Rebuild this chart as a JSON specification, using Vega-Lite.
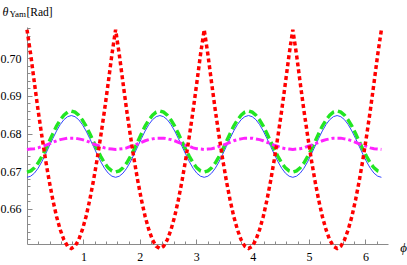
{
"$schema": "https://vega.github.io/schema/vega-lite/v6.json",
"width": 361, "height": 217,
"autosize": "none",
"padding": {"left": 27, "top": 27, "right": 19, "bottom": 21},
"background": "white",
"config": {"view": {"stroke": null}, "axis": {"grid": false, "domainColor": "#8a8a8a", "tickColor": "#8a8a8a", "labelFont": "Liberation Serif", "labelFontSize": 12, "labelColor": "#000000", "titleFont": "Liberation Serif", "titleColor": "#000000", "titleFontWeight": "normal"}},
"data": {"values": [
{"phi":0,"red":0.7076,"green":0.6698,"blue":0.6684,"magenta":0.6758},
{"phi":0.0654,"red":0.7010,"green":0.6701,"blue":0.6687,"magenta":0.6759},
{"phi":0.1309,"red":0.6935,"green":0.6709,"blue":0.6695,"magenta":0.6760},
{"phi":0.1963,"red":0.6862,"green":0.6722,"blue":0.6708,"magenta":0.6762},
{"phi":0.2618,"red":0.6795,"green":0.6739,"blue":0.6725,"magenta":0.6766},
{"phi":0.3272,"red":0.6732,"green":0.6758,"blue":0.6745,"magenta":0.6769},
{"phi":0.3927,"red":0.6675,"green":0.6779,"blue":0.6766,"magenta":0.6773},
{"phi":0.4581,"red":0.6624,"green":0.6800,"blue":0.6787,"magenta":0.6777},
{"phi":0.5236,"red":0.6580,"green":0.6820,"blue":0.6807,"magenta":0.6781},
{"phi":0.5890,"red":0.6545,"green":0.6836,"blue":0.6824,"magenta":0.6784},
{"phi":0.6545,"red":0.6518,"green":0.6849,"blue":0.6837,"magenta":0.6786},
{"phi":0.7199,"red":0.6501,"green":0.6857,"blue":0.6845,"magenta":0.6788},
{"phi":0.7854,"red":0.6495,"green":0.6860,"blue":0.6848,"magenta":0.6788},
{"phi":0.8508,"red":0.6501,"green":0.6857,"blue":0.6845,"magenta":0.6788},
{"phi":0.9163,"red":0.6518,"green":0.6849,"blue":0.6837,"magenta":0.6786},
{"phi":0.9817,"red":0.6545,"green":0.6836,"blue":0.6824,"magenta":0.6784},
{"phi":1.0472,"red":0.6580,"green":0.6820,"blue":0.6807,"magenta":0.6781},
{"phi":1.1126,"red":0.6624,"green":0.6800,"blue":0.6787,"magenta":0.6777},
{"phi":1.1781,"red":0.6675,"green":0.6779,"blue":0.6766,"magenta":0.6773},
{"phi":1.2435,"red":0.6732,"green":0.6758,"blue":0.6745,"magenta":0.6769},
{"phi":1.3090,"red":0.6795,"green":0.6739,"blue":0.6725,"magenta":0.6766},
{"phi":1.3744,"red":0.6862,"green":0.6722,"blue":0.6708,"magenta":0.6762},
{"phi":1.4399,"red":0.6935,"green":0.6709,"blue":0.6695,"magenta":0.6760},
{"phi":1.5053,"red":0.7010,"green":0.6701,"blue":0.6687,"magenta":0.6759},
{"phi":1.5708,"red":0.7076,"green":0.6698,"blue":0.6684,"magenta":0.6758},
{"phi":1.6362,"red":0.7010,"green":0.6701,"blue":0.6687,"magenta":0.6759},
{"phi":1.7017,"red":0.6935,"green":0.6709,"blue":0.6695,"magenta":0.6760},
{"phi":1.7671,"red":0.6862,"green":0.6722,"blue":0.6708,"magenta":0.6762},
{"phi":1.8326,"red":0.6795,"green":0.6739,"blue":0.6725,"magenta":0.6766},
{"phi":1.8980,"red":0.6732,"green":0.6758,"blue":0.6745,"magenta":0.6769},
{"phi":1.9635,"red":0.6675,"green":0.6779,"blue":0.6766,"magenta":0.6773},
{"phi":2.0289,"red":0.6624,"green":0.6800,"blue":0.6787,"magenta":0.6777},
{"phi":2.0944,"red":0.6580,"green":0.6820,"blue":0.6807,"magenta":0.6781},
{"phi":2.1598,"red":0.6545,"green":0.6836,"blue":0.6824,"magenta":0.6784},
{"phi":2.2253,"red":0.6518,"green":0.6849,"blue":0.6837,"magenta":0.6786},
{"phi":2.2907,"red":0.6501,"green":0.6857,"blue":0.6845,"magenta":0.6788},
{"phi":2.3562,"red":0.6495,"green":0.6860,"blue":0.6848,"magenta":0.6788},
{"phi":2.4216,"red":0.6501,"green":0.6857,"blue":0.6845,"magenta":0.6788},
{"phi":2.4871,"red":0.6518,"green":0.6849,"blue":0.6837,"magenta":0.6786},
{"phi":2.5525,"red":0.6545,"green":0.6836,"blue":0.6824,"magenta":0.6784},
{"phi":2.6180,"red":0.6580,"green":0.6820,"blue":0.6807,"magenta":0.6781},
{"phi":2.6834,"red":0.6624,"green":0.6800,"blue":0.6787,"magenta":0.6777},
{"phi":2.7489,"red":0.6675,"green":0.6779,"blue":0.6766,"magenta":0.6773},
{"phi":2.8143,"red":0.6732,"green":0.6758,"blue":0.6745,"magenta":0.6769},
{"phi":2.8798,"red":0.6795,"green":0.6739,"blue":0.6725,"magenta":0.6766},
{"phi":2.9452,"red":0.6862,"green":0.6722,"blue":0.6708,"magenta":0.6762},
{"phi":3.0107,"red":0.6935,"green":0.6709,"blue":0.6695,"magenta":0.6760},
{"phi":3.0761,"red":0.7010,"green":0.6701,"blue":0.6687,"magenta":0.6759},
{"phi":3.1416,"red":0.7076,"green":0.6698,"blue":0.6684,"magenta":0.6758},
{"phi":3.2070,"red":0.7010,"green":0.6701,"blue":0.6687,"magenta":0.6759},
{"phi":3.2725,"red":0.6935,"green":0.6709,"blue":0.6695,"magenta":0.6760},
{"phi":3.3379,"red":0.6862,"green":0.6722,"blue":0.6708,"magenta":0.6762},
{"phi":3.4034,"red":0.6795,"green":0.6739,"blue":0.6725,"magenta":0.6766},
{"phi":3.4688,"red":0.6732,"green":0.6758,"blue":0.6745,"magenta":0.6769},
{"phi":3.5343,"red":0.6675,"green":0.6779,"blue":0.6766,"magenta":0.6773},
{"phi":3.5997,"red":0.6624,"green":0.6800,"blue":0.6787,"magenta":0.6777},
{"phi":3.6652,"red":0.6580,"green":0.6820,"blue":0.6807,"magenta":0.6781},
{"phi":3.7306,"red":0.6545,"green":0.6836,"blue":0.6824,"magenta":0.6784},
{"phi":3.7961,"red":0.6518,"green":0.6849,"blue":0.6837,"magenta":0.6786},
{"phi":3.8615,"red":0.6501,"green":0.6857,"blue":0.6845,"magenta":0.6788},
{"phi":3.9270,"red":0.6495,"green":0.6860,"blue":0.6848,"magenta":0.6788},
{"phi":3.9924,"red":0.6501,"green":0.6857,"blue":0.6845,"magenta":0.6788},
{"phi":4.0579,"red":0.6518,"green":0.6849,"blue":0.6837,"magenta":0.6786},
{"phi":4.1233,"red":0.6545,"green":0.6836,"blue":0.6824,"magenta":0.6784},
{"phi":4.1888,"red":0.6580,"green":0.6820,"blue":0.6807,"magenta":0.6781},
{"phi":4.2542,"red":0.6624,"green":0.6800,"blue":0.6787,"magenta":0.6777},
{"phi":4.3197,"red":0.6675,"green":0.6779,"blue":0.6766,"magenta":0.6773},
{"phi":4.3851,"red":0.6732,"green":0.6758,"blue":0.6745,"magenta":0.6769},
{"phi":4.4506,"red":0.6795,"green":0.6739,"blue":0.6725,"magenta":0.6766},
{"phi":4.5160,"red":0.6862,"green":0.6722,"blue":0.6708,"magenta":0.6762},
{"phi":4.5815,"red":0.6935,"green":0.6709,"blue":0.6695,"magenta":0.6760},
{"phi":4.6469,"red":0.7010,"green":0.6701,"blue":0.6687,"magenta":0.6759},
{"phi":4.7124,"red":0.7076,"green":0.6698,"blue":0.6684,"magenta":0.6758},
{"phi":4.7778,"red":0.7010,"green":0.6701,"blue":0.6687,"magenta":0.6759},
{"phi":4.8433,"red":0.6935,"green":0.6709,"blue":0.6695,"magenta":0.6760},
{"phi":4.9087,"red":0.6862,"green":0.6722,"blue":0.6708,"magenta":0.6762},
{"phi":4.9742,"red":0.6795,"green":0.6739,"blue":0.6725,"magenta":0.6766},
{"phi":5.0396,"red":0.6732,"green":0.6758,"blue":0.6745,"magenta":0.6769},
{"phi":5.1051,"red":0.6675,"green":0.6779,"blue":0.6766,"magenta":0.6773},
{"phi":5.1705,"red":0.6624,"green":0.6800,"blue":0.6787,"magenta":0.6777},
{"phi":5.2360,"red":0.6580,"green":0.6820,"blue":0.6807,"magenta":0.6781},
{"phi":5.3014,"red":0.6545,"green":0.6836,"blue":0.6824,"magenta":0.6784},
{"phi":5.3669,"red":0.6518,"green":0.6849,"blue":0.6837,"magenta":0.6786},
{"phi":5.4323,"red":0.6501,"green":0.6857,"blue":0.6845,"magenta":0.6788},
{"phi":5.4978,"red":0.6495,"green":0.6860,"blue":0.6848,"magenta":0.6788},
{"phi":5.5632,"red":0.6501,"green":0.6857,"blue":0.6845,"magenta":0.6788},
{"phi":5.6287,"red":0.6518,"green":0.6849,"blue":0.6837,"magenta":0.6786},
{"phi":5.6941,"red":0.6545,"green":0.6836,"blue":0.6824,"magenta":0.6784},
{"phi":5.7596,"red":0.6580,"green":0.6820,"blue":0.6807,"magenta":0.6781},
{"phi":5.8250,"red":0.6624,"green":0.6800,"blue":0.6787,"magenta":0.6777},
{"phi":5.8905,"red":0.6675,"green":0.6779,"blue":0.6766,"magenta":0.6773},
{"phi":5.9559,"red":0.6732,"green":0.6758,"blue":0.6745,"magenta":0.6769},
{"phi":6.0214,"red":0.6795,"green":0.6739,"blue":0.6725,"magenta":0.6766},
{"phi":6.0868,"red":0.6862,"green":0.6722,"blue":0.6708,"magenta":0.6762},
{"phi":6.1523,"red":0.6935,"green":0.6709,"blue":0.6695,"magenta":0.6760},
{"phi":6.2177,"red":0.7010,"green":0.6701,"blue":0.6687,"magenta":0.6759},
{"phi":6.2832,"red":0.7076,"green":0.6698,"blue":0.6684,"magenta":0.6758}
]},
"resolve": {"axis": {"x": "independent", "y": "independent"}},
"layer": [
{"mark": {"type": "line", "color": "#3344ff", "strokeWidth": 1, "clip": false},
 "encoding": {
  "x": {"field": "phi", "type": "quantitative", "scale": {"domain": [0, 6.4], "nice": false, "zero": false},
        "axis": {"orient": "bottom", "values": [1,2,3,4,5,6], "format": "d", "ticks": false, "domain": true, "labelPadding": 7, "labelFlush": false,
                 "title": "ϕ", "titleFontStyle": "italic", "titleFontSize": 13, "titleX": 376, "titleY": 3, "titleAlign": "center", "titleBaseline": "middle", "titleAngle": 0}},
  "y": {"field": "blue", "type": "quantitative", "scale": {"domain": [0.6507, 0.7083], "nice": false, "zero": false},
        "axis": {"orient": "left", "values": [0.66,0.67,0.68,0.69,0.70], "format": ".2f", "ticks": false, "domain": true, "labelPadding": 6, "labelFlush": false,
                 "title": "θ", "titleFontStyle": "italic", "titleFontSize": 12, "titleAngle": 0, "titleAlign": "left", "titleBaseline": "alphabetic", "titleX": -25, "titleY": -12}}
 }},
{"mark": {"type": "line", "color": "#22e622", "strokeWidth": 3.4, "strokeDash": [9, 4], "clip": false},
 "encoding": {
  "x": {"field": "phi", "type": "quantitative",
        "axis": {"orient": "bottom", "values": [1,2,3,4,5,6], "labels": false, "domain": false, "tickSize": -5, "title": null}},
  "y": {"field": "green", "type": "quantitative",
        "axis": {"orient": "left", "values": [0.66,0.67,0.68,0.69,0.70], "labels": false, "domain": false, "tickSize": -5,
                 "title": "Yam", "titleFontSize": 9, "titleAngle": 0, "titleAlign": "left", "titleBaseline": "alphabetic", "titleX": -18, "titleY": -10.5}}
 }},
{"mark": {"type": "line", "color": "#ff22ff", "strokeWidth": 3, "strokeDash": [8, 3, 3, 3], "clip": false},
 "encoding": {
  "x": {"field": "phi", "type": "quantitative",
        "axis": {"orient": "bottom", "values": [0.2,0.4,0.6,0.8,1.2,1.4,1.6,1.8,2.2,2.4,2.6,2.8,3.2,3.4,3.6,3.8,4.2,4.4,4.6,4.8,5.2,5.4,5.6,5.8,6.2], "labels": false, "domain": false, "tickSize": -3, "title": null}},
  "y": {"field": "magenta", "type": "quantitative",
        "axis": {"orient": "left", "values": [0.652,0.654,0.656,0.658,0.662,0.664,0.666,0.668,0.672,0.674,0.676,0.678,0.682,0.684,0.686,0.688,0.692,0.694,0.696,0.698,0.702,0.704,0.706,0.708], "labels": false, "domain": false, "tickSize": -3,
                 "title": "[Rad]", "titleFontSize": 11.5, "titleAngle": 0, "titleAlign": "left", "titleBaseline": "alphabetic", "titleX": -1, "titleY": -12}}
 }},
{"mark": {"type": "line", "color": "#ff0000", "strokeWidth": 3.5, "strokeDash": [4, 3], "clip": false},
 "encoding": {
  "x": {"field": "phi", "type": "quantitative", "axis": null},
  "y": {"field": "red", "type": "quantitative", "axis": null}
 }}
]
}
